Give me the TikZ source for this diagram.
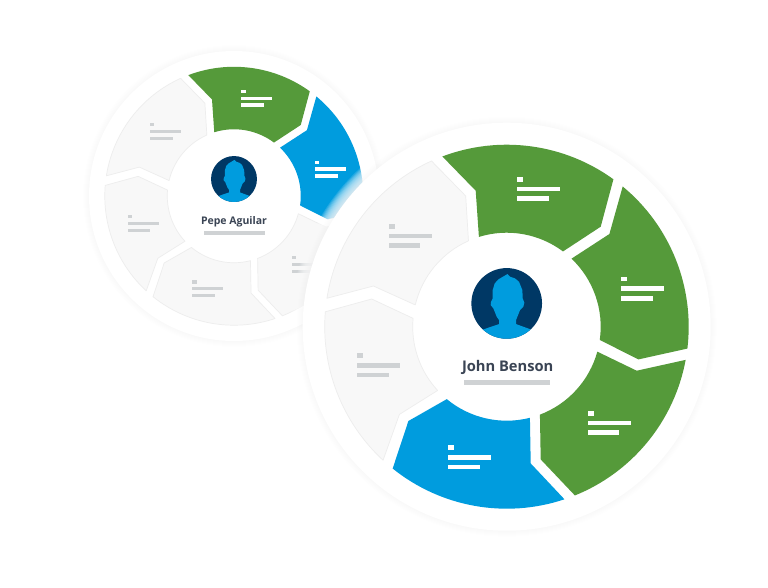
\documentclass[tikz,border=0pt]{standalone}
\usepackage{fontspec}
\setmainfont{Open Sans}
\definecolor{wgreen}{HTML}{559A3A}
\definecolor{wblue}{HTML}{009CDE}
\definecolor{wnavy}{HTML}{003865}
\definecolor{wgray}{HTML}{F8F8F8}
\definecolor{wedge}{HTML}{EDEDED}
\definecolor{wbar}{HTML}{CFD2D4}
\definecolor{wtext}{HTML}{3A4454}
\tikzset{
  seggreen/.style={fill=wgreen},
  segblue/.style={fill=wblue},
  seggray/.style={fill=wgray,draw=wedge,line width=0.7pt,line join=round},
  barwhite/.style={fill=white},
  bargray/.style={fill=wbar},
  namelabel/.style={font=\bfseries,text=wtext,inner sep=0pt,anchor=center}
}
% style, outer start angle, outer end angle, notch E, inner start angle, inner end angle, notch B
\newcommand{\seg}[7]{\path[#1] (#2:182) arc[start angle=#2,end angle=#3,radius=182] -- (#4) -- (#5:94) arc[start angle=#5,end angle=#6,radius=94] -- (#7) -- cycle;}
% the six segments, clockwise from the top, with their styles
\newcommand{\wheel}[6]{%
  \seg{#1}{110.7}{54.1}{94,100}{53.2}{107.2}{-31,136}
  \seg{#2}{50.4}{-6.9}{131.7,-32.7}{-8.1}{46.4}{102.7,92.7}
  \seg{#3}{-10.5}{-68}{34,-132.7}{-69.3}{-15.4}{130,-44}
  \seg{#4}{-71.5}{-128.8}{-98.3,-94.3}{-129.6}{-75.7}{24,-136.7}
  \seg{#5}{-132.8}{-184.7}{-135,27.7}{-185.1}{-137.3}{-107.3,-87.7}
  \seg{#6}{171}{114.4}{-41,130.7}{114}{166.6}{-133.3,40.7}
}
% three short bars with top-left corner at the given point
\newcommand{\bars}[3]{%
  \fill[#3] (#1,#2) rectangle ++(6,-4.6);
  \fill[#3] (#1,#2-9.7) rectangle ++(43,-4.6);
  \fill[#3] (#1,#2-19.4) rectangle ++(31.6,-4.6);
}
% avatar: navy disc with a blue head and shoulders, in units of a third of a pixel
\newcommand{\avatar}{%
  \fill[wnavy] (0,0) circle[radius=106];
  \begin{scope}
    \clip (0,0) circle[radius=106];
    \fill[wblue] (-110,-90) -- (-70,-78) -- (-23,-62) -- (-23,-50) -- (-30,-40) -- (-40,-15) -- (-48,-5) -- (-47,5) -- (-42,15) -- (-42,40) -- (-36,60) -- (-25,72) -- (-15,78) -- (-8,82) -- (2,88) -- (10,80) -- (25,75) -- (37,65) -- (47,40) -- (48,15) -- (53,2) -- (50,-10) -- (40,-20) -- (32,-40) -- (28,-50) -- (28,-62) -- (72,-78) -- (110,-92) -- (110,-120) -- (-110,-120) -- cycle;
  \end{scope}}
\begin{document}
\begin{tikzpicture}[x=1pt,y=1pt]
\useasboundingbox (0,0) rectangle (768,-587);
\fill[white] (0,0) rectangle (768,-587);

% ---- small wheel
\begin{scope}[shift={(234,-196)}]
  \foreach \r in {151,150,149,148,147,146}
    \fill[black,opacity=0.005] (0,0) circle[radius=\r];
  \fill[white] (0,0) circle[radius=145];
  \begin{scope}[scale=0.71]
    \wheel{seggreen}{segblue}{seggray}{seggray}{seggray}{seggray}
    \bars{10.3}{149.7}{barwhite}
    \bars{114.3}{50}{barwhite}
    \bars{81}{-84.3}{bargray}
    \bars{-58.7}{-118.7}{bargray}
    \bars{-149.3}{-26.7}{bargray}
    \bars{-118}{102.7}{bargray}
  \end{scope}
  \begin{scope}[shift={(0,17)},scale=0.2167]
    \avatar
  \end{scope}
  \fill[wbar] (-30,-35.3) rectangle (30.7,-38.7);
  \node[namelabel,font=\fontsize{10.5}{12}\selectfont\bfseries] (pepe) at (0,-25.5) {Pepe Aguilar};
\end{scope}

% ---- white glow of the large wheel, over the small one
\begin{scope}
  \clip (234,-196) circle[radius=145];
  \foreach \r in {216,215,214,213,212,211,210,209,208,207,206,205}
    \fill[white,opacity=0.14] (506.7,-326.7) circle[radius=\r];
\end{scope}

% ---- large wheel
\begin{scope}[shift={(506.7,-326.7)}]
  \foreach \r in {210,209,208,207,206,205}
    \fill[black,opacity=0.005] (0,0) circle[radius=\r];
  \fill[white] (0,0) circle[radius=204];
  \wheel{seggreen}{seggreen}{seggreen}{segblue}{seggray}{seggray}
  \bars{10.3}{149.7}{barwhite}
  \bars{114.3}{50}{barwhite}
  \bars{81}{-84.3}{barwhite}
  \bars{-58.7}{-118.7}{barwhite}
  \bars{-149.3}{-26.7}{bargray}
  \bars{-118}{102.7}{bargray}
  \begin{scope}[shift={(0,23.3)},scale=0.3333]
    \avatar
  \end{scope}
  \fill[wbar] (-42.7,-53.3) rectangle (43.6,-58);
  \node[namelabel,font=\fontsize{14.7}{16}\selectfont\bfseries] (john) at (1,-40.5) {John Benson};
\end{scope}
\end{tikzpicture}
\end{document}
